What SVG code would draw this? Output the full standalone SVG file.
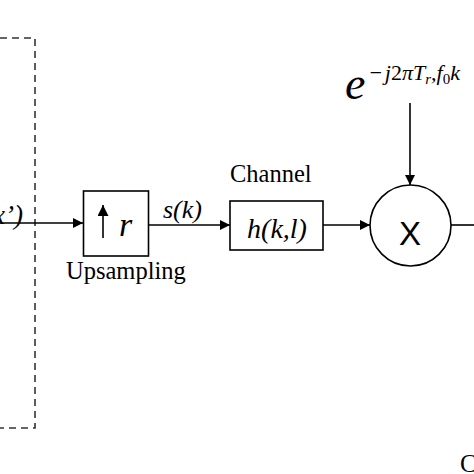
<svg xmlns="http://www.w3.org/2000/svg" width="474" height="474" viewBox="0 0 474 474">
<style>
.ln{stroke:#000;stroke-width:1.6;fill:none}
.box{stroke:#000;stroke-width:1.6;fill:#fff}
.t{font-family:"Liberation Serif",serif;fill:#000}
.i{font-style:italic}
.dash{stroke:#333;stroke-width:1.6;fill:none;stroke-dasharray:7,5}
</style>
<defs>
<marker id="ah" viewBox="0 0 10 10" refX="10" refY="5" markerWidth="11" markerHeight="10" markerUnits="userSpaceOnUse" orient="auto">
<path d="M0,0 L10,5 L0,10 z" fill="#000"/>
</marker>
<marker id="ahs" viewBox="0 0 10 10" refX="10" refY="5" markerWidth="11" markerHeight="11" markerUnits="userSpaceOnUse" orient="auto">
<path d="M0,0 L10,5 L0,10 z" fill="#000"/>
</marker>
</defs>
<g id="source-box">
<polyline class="dash" points="0,38 35,38 35,428 0,428"/>
<text class="t i" x="23" y="224" font-size="27" text-anchor="end">x’)</text>
</g>
<g id="connectors">
<line class="ln" x1="0" y1="223" x2="83" y2="223" marker-end="url(#ah)"/>
<line class="ln" x1="149" y1="225" x2="230" y2="225" marker-end="url(#ah)"/>
<line class="ln" x1="323" y1="225" x2="370" y2="225" marker-end="url(#ah)"/>
<line class="ln" x1="410" y1="103" x2="410" y2="185" marker-end="url(#ah)"/>
<line class="ln" x1="451" y1="225" x2="474" y2="225"/>
</g>
<g id="upsampling">
<rect class="box" x="83.5" y="191" width="65" height="65"/>
<line class="ln" x1="103" y1="238" x2="103" y2="205" marker-end="url(#ahs)"/>
<text class="t i" x="119" y="236" font-size="34">r</text>
<text class="t" x="66" y="279" font-size="24.5">Upsampling</text>
</g>
<text class="t i" x="163" y="218" font-size="26">s(k)</text>
<g id="channel">
<text class="t" x="230" y="182" font-size="24.5">Channel</text>
<rect class="box" x="230" y="201" width="93" height="49"/>
<text class="t i" x="277" y="238" font-size="28" text-anchor="middle">h(k,l)</text>
</g>
<g id="mixer">
<circle class="box" cx="410.5" cy="225.5" r="40.5"/>
<text x="410" y="245" font-family="Liberation Sans,Arial,sans-serif" font-size="33" text-anchor="middle">X</text>
</g>
<g id="exponent">
<text class="t i" x="345" y="99" font-size="46">e</text>
<text class="t i" x="368" y="80" font-size="22">−<tspan dx="2">j</tspan><tspan font-style="normal">2</tspan>π<tspan>T</tspan><tspan font-size="15" dy="4">r</tspan><tspan dy="-4">,f</tspan><tspan font-style="normal" font-size="15" dy="4">0</tspan><tspan dy="-4">k</tspan></text>
</g>
<text class="t" x="460" y="472" font-size="25">C</text>
</svg>
